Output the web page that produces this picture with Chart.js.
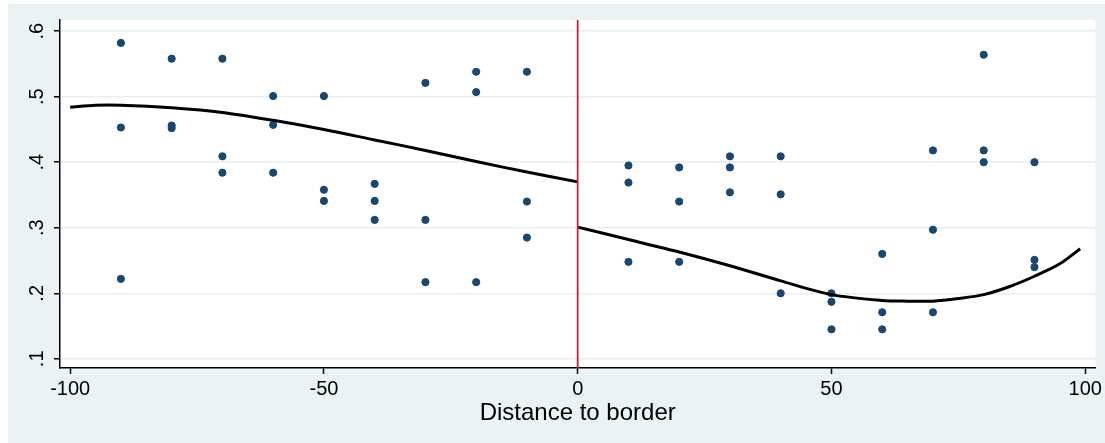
<!DOCTYPE html>
<html>
<head>
<meta charset="utf-8">
<script src="https://cdn.jsdelivr.net/npm/chart.js@4/dist/chart.umd.min.js"></script>
<style>
  html, body { margin: 0; padding: 0; background: #ffffff; }
  body { width: 1105px; height: 443px; position: relative; overflow: hidden; }
  #chart { position: absolute; left: 8px; top: 4px; background: #eaf2f3; }
</style>
</head>
<body>
<canvas id="chart" width="1097" height="439"></canvas>
<script>
// scatter: distance to border (bins) and the share for each obs
var pointsX = [-90,-90,-90, -80,-80,-80, -70,-70,-70, -60,-60,-60, -50,-50,-50,
               -40,-40,-40, -30,-30,-30, -20,-20,-20, -10,-10,-10,
               10,10,10, 20,20,20, 30,30,30, 40,40,40, 50,50,50,
               60,60,60, 70,70,70, 80,80,80, 90,90,90];
var pointsY = [.582,.453,.222, .558,.456,.452, .558,.409,.384, .501,.457,.384, .501,.358,.341,
               .367,.341,.312, .521,.312,.217, .538,.507,.217, .538,.340,.285,
               .395,.369,.248, .392,.340,.248, .409,.392,.354, .409,.351,.200, .200,.187,.145,
               .260,.171,.145, .418,.297,.171, .564,.418,.400, .400,.251,.240];

// fitted curves, left and right of the border
var fitLeftX  = [-100, -95, -90, -80, -70, -60, -50, -40, -30, -20, -10, 0];
var fitLeftY  = [.484, .487, .487, .483, .476, .464, .450, .434, .418, .401, .385, .370];
var fitRightX = [0, 10, 20, 30, 40, 50, 60, 65, 70, 75, 80, 85, 90, 95, 99];
var fitRightY = [.301, .282, .263, .242, .219, .198, .189, .188, .188, .192, .198, .210, .226, .245, .268];

var xTicks = [-100, -50, 0, 50, 100];
var yTicks = [.1, .2, .3, .4, .5, .6];
var xTitle = "Distance to border";
var borderAt = 0;

function toXY(xs, ys) {
  var out = [];
  for (var i = 0; i < xs.length; i++) out.push({x: xs[i], y: ys[i]});
  return out;
}
function fmtY(v) { return v.toFixed(1).replace(/^0/, ''); }

var bgPlugin = {
  id: 'bg',
  beforeDraw: function (chart) {
    var a = chart.chartArea, c = chart.ctx;
    c.save();
    c.fillStyle = '#ffffff';
    c.fillRect(a.left, a.top, a.right - a.left, a.bottom - a.top);
    c.restore();
  },
  afterDatasetsDraw: function (chart) {
    // red line at the border
    var a = chart.chartArea, c = chart.ctx;
    var px = chart.scales.x.getPixelForValue(borderAt);
    c.save();
    c.strokeStyle = '#cc1f45';
    c.lineWidth = 1.8;
    c.beginPath();
    c.moveTo(px, a.top);
    c.lineTo(px, a.bottom);
    c.stroke();
    c.restore();
  },
  afterDraw: function (chart) {
    // y labels rotated like stata
    var s = chart.scales.y, c = chart.ctx;
    c.save();
    c.font = '20px "Liberation Sans", Arial, sans-serif';
    c.fillStyle = '#000000';
    c.textAlign = 'center';
    c.textBaseline = 'alphabetic';
    s.ticks.forEach(function (t) {
      var py = s.getPixelForValue(t.value);
      c.save();
      c.translate(35, py);
      c.rotate(-Math.PI / 2);
      c.fillText(fmtY(t.value), 0, 0);
      c.restore();
    });
    c.restore();
  }
};

new Chart(document.getElementById('chart'), {
  type: 'scatter',
  data: {
    datasets: [
      {
        data: toXY(pointsX, pointsY),
        backgroundColor: '#1a476f',
        borderColor: '#1a476f',
        pointRadius: 3.6,
        pointHoverRadius: 3.6,
        order: 2
      },
      {
        type: 'line',
        data: toXY(fitLeftX, fitLeftY),
        borderColor: '#000000',
        borderWidth: 3,
        pointRadius: 0,
        tension: 0.3,
        fill: false,
        order: 1
      },
      {
        type: 'line',
        data: toXY(fitRightX, fitRightY),
        borderColor: '#000000',
        borderWidth: 3,
        pointRadius: 0,
        tension: 0.3,
        fill: false,
        order: 1
      }
    ]
  },
  options: {
    responsive: false,
    animation: false,
    events: [],
    layout: { padding: { left: 0, right: 9, top: 16, bottom: 0 } },
    plugins: { legend: { display: false }, tooltip: { enabled: false } },
    scales: {
      x: {
        type: 'linear',
        min: -102,
        max: 102,
        afterBuildTicks: function (s) { s.ticks = xTicks.map(function (v) { return {value: v}; }); },
        afterFit: function (s) { s.height = 75; },
        grid: { drawOnChartArea: false, tickLength: 6, tickColor: '#000000', tickWidth: 1.5 },
        border: { color: '#000000', width: 1.5 },
        ticks: {
          color: '#000000',
          padding: 3,
          maxRotation: 0,
          font: { family: '"Liberation Sans", Arial, sans-serif', size: 20 }
        },
        title: {
          display: true,
          text: xTitle,
          color: '#000000',
          padding: { top: 0, bottom: 15 },
          font: { family: '"Liberation Sans", Arial, sans-serif', size: 24 }
        }
      },
      y: {
        type: 'linear',
        min: 0.086,
        max: 0.617,
        afterBuildTicks: function (s) { s.ticks = yTicks.map(function (v) { return {value: v}; }); },
        afterFit: function (s) { s.width = 52; },
        grid: { color: '#e6eef0', lineWidth: 1.5, tickLength: 6, tickColor: '#000000', tickWidth: 1.5 },
        border: { color: '#000000', width: 1.5 },
        ticks: { display: false }
      }
    }
  },
  plugins: [bgPlugin]
});
</script>
</body>
</html>
